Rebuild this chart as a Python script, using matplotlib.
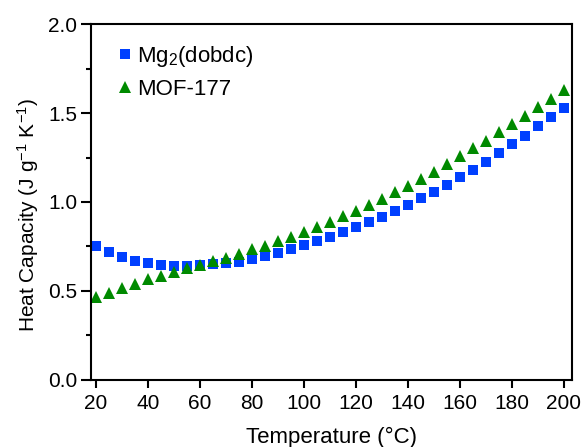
import matplotlib
matplotlib.use("Agg")
import matplotlib.pyplot as plt
from matplotlib.ticker import MultipleLocator

plt.rcParams['font.family'] = ['Liberation Sans', 'DejaVu Sans']
plt.rcParams['mathtext.fontset'] = 'custom'
plt.rcParams['mathtext.rm'] = 'Liberation Sans'
plt.rcParams['mathtext.it'] = 'Liberation Sans'
plt.rcParams['mathtext.default'] = 'regular'

temperature = list(range(20, 205, 5))
mg2_dobdc = [0.751, 0.717, 0.691, 0.669, 0.655, 0.644, 0.639, 0.640, 0.644, 0.652,
             0.659, 0.665, 0.682, 0.697, 0.715, 0.736, 0.757, 0.779, 0.803, 0.830,
             0.858, 0.888, 0.918, 0.949, 0.985, 1.021, 1.058, 1.098, 1.140, 1.182,
             1.227, 1.275, 1.324, 1.373, 1.425, 1.476, 1.528]
mof177 = [0.465, 0.491, 0.519, 0.541, 0.566, 0.584, 0.607, 0.627, 0.646, 0.667,
          0.685, 0.708, 0.734, 0.755, 0.779, 0.803, 0.830, 0.858, 0.888, 0.919,
          0.951, 0.985, 1.017, 1.054, 1.092, 1.131, 1.170, 1.213, 1.258, 1.302,
          1.345, 1.391, 1.438, 1.485, 1.532, 1.580, 1.627]
x_ticks = [20, 40, 60, 80, 100, 120, 140, 160, 180, 200]
y_ticks = [0.0, 0.5, 1.0, 1.5, 2.0]

fig = plt.figure(figsize=(5.82, 4.47), dpi=100)
ax = fig.add_axes([0.1564, 0.1499, 0.8259, 0.7964])

ax.plot(temperature, mg2_dobdc, linestyle='none', marker='s', markersize=6.5,
        color='#0040ff', markeredgewidth=0, label='Mg$_2$(dobdc)')
ax.plot(temperature, mof177, linestyle='none', marker='^', markersize=8,
        color='#008a00', markeredgewidth=0, label='MOF-177')

ax.set_xlim(18.1, 203)
ax.set_ylim(0, 2.0)
ax.set_xticks(x_ticks)
ax.set_yticks(y_ticks)
ax.set_yticklabels([f'{v:.1f}' for v in y_ticks])
ax.yaxis.set_minor_locator(MultipleLocator(0.25))

for s in ax.spines.values():
    s.set_linewidth(1.5)
ax.tick_params(axis='y', which='major', direction='out', length=7, width=1.5,
               labelsize=15, colors='black', pad=3)
ax.tick_params(axis='x', which='major', direction='out', length=6, width=1.5,
               labelsize=15, colors='black', pad=4)
ax.tick_params(axis='y', which='minor', direction='out', length=3.5, width=1.5)
ax.tick_params(top=False, right=False)

ax.set_xlabel('Temperature (°C)', fontsize=16, labelpad=10)
ax.set_ylabel('Heat Capacity (J g$^{-1}$ K$^{-1}$)', fontsize=15)
ax.yaxis.set_label_coords(-0.104, 0.462)

ax.legend(loc='upper left', bbox_to_anchor=(0.013, 1.0), frameon=False, fontsize=16,
          handlelength=0.7, handletextpad=0.2, borderaxespad=0.5, labelspacing=0.45,
          markerscale=1.0)

fig.savefig('out.png', dpi=100)
